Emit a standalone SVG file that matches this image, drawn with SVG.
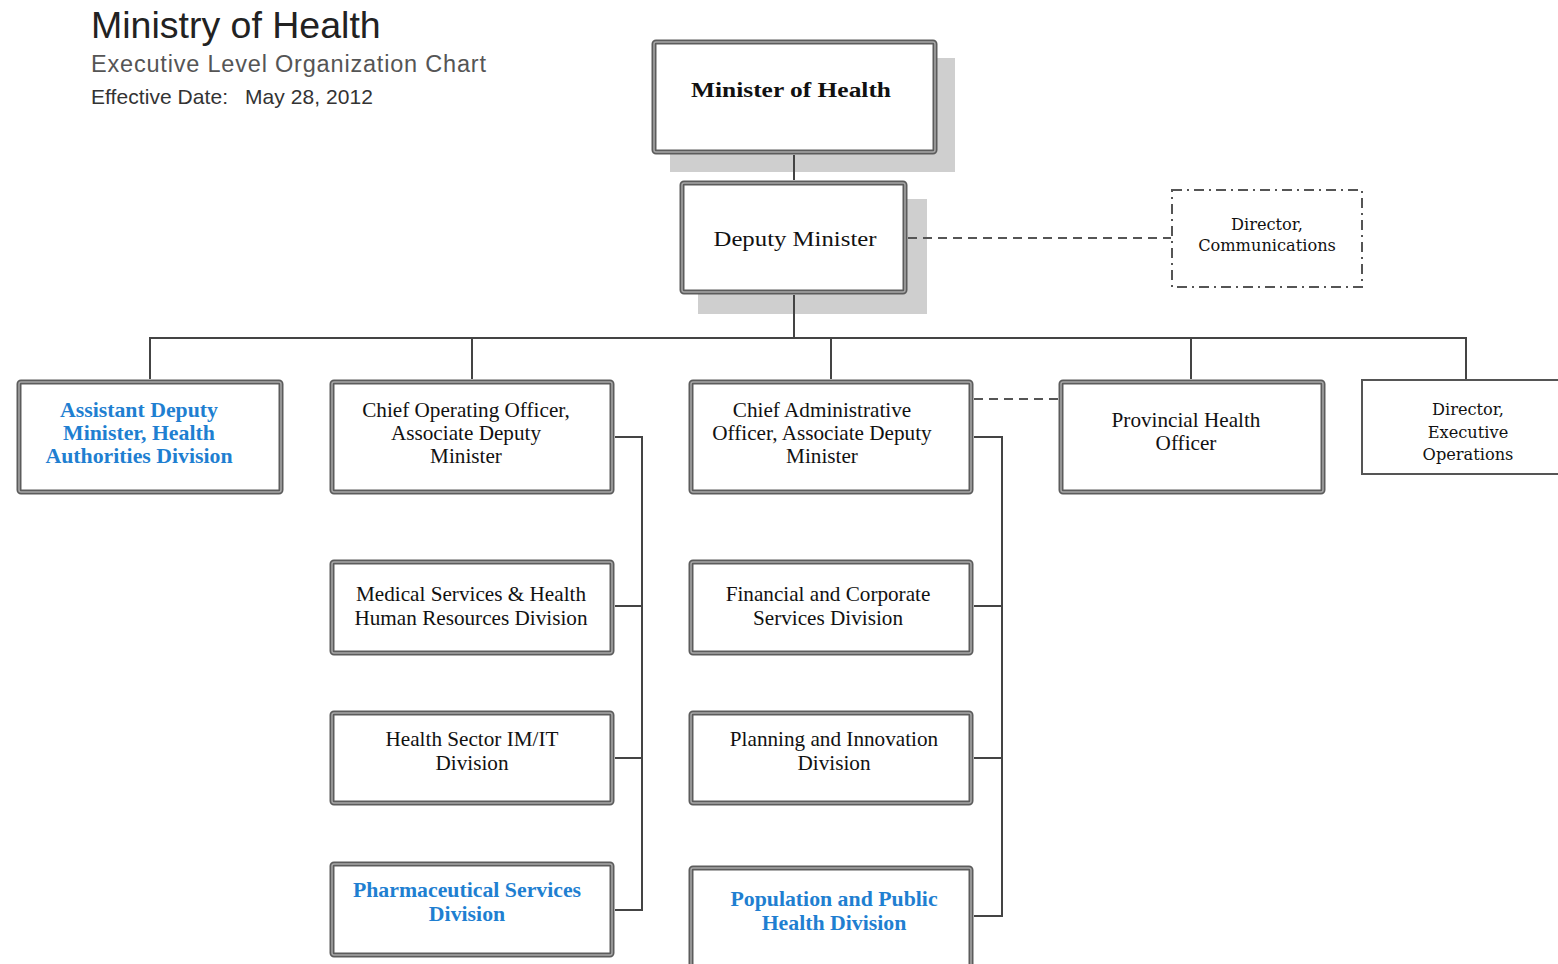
<svg xmlns="http://www.w3.org/2000/svg" width="1558" height="964" viewBox="0 0 1558 964">
<style>
.bx{fill:#fff;stroke:#5c5c5c;stroke-width:5}
.bxi{fill:none;stroke:#a8a8a8;stroke-width:1.5}
.sh{fill:#cfcfcf}
.t{font-family:"Liberation Serif","Times New Roman",serif;font-size:21.2px;fill:#111;text-anchor:middle}
.tb{font-family:"Liberation Serif","Times New Roman",serif;font-size:21.8px;font-weight:bold;fill:#1f7fd1;text-anchor:middle}
.td{font-family:"DejaVu Serif",serif;font-size:16.2px;fill:#111;text-anchor:middle}
.ln{fill:none;stroke:#444;stroke-width:2}
.dl{fill:none;stroke:#555;stroke-width:2;stroke-dasharray:9 6}
.hd{font-family:"Liberation Sans",Arial,sans-serif}
</style>
<rect width="1558" height="964" fill="#fff"/>
<g id="title">
<text class="hd" x="91" y="38" font-size="37.5" fill="#222">Ministry of Health</text>
<text class="hd" x="91" y="72" font-size="23.5" fill="#555" textLength="395">Executive Level Organization Chart</text>
<text class="hd" x="91" y="104" font-size="21" fill="#333" textLength="137">Effective Date:</text>
<text class="hd" x="245" y="104" font-size="21" fill="#333" textLength="128">May 28, 2012</text>
</g>
<g id="minister">
<rect class="sh" x="670" y="58" width="285" height="114"/>
<rect class="bx" x="654" y="42" width="281" height="110" rx="2"/>
<rect class="bxi" x="654" y="42" width="281" height="110" rx="2"/>
<text class="t" x="791" y="97" font-size="26" font-weight="bold" textLength="200" lengthAdjust="spacingAndGlyphs">Minister of Health</text>
</g>
<g id="deputy">
<rect class="sh" x="698" y="199" width="229" height="115"/>
<rect class="bx" x="682" y="183" width="223" height="109" rx="2"/>
<rect class="bxi" x="682" y="183" width="223" height="109" rx="2"/>
<text class="t" x="795" y="246" font-size="26" textLength="163" lengthAdjust="spacingAndGlyphs">Deputy Minister</text>
</g>
<g id="dir-comm">
<rect x="1172" y="190" width="190" height="97" fill="#fff" stroke="#555" stroke-width="2" stroke-dasharray="10 5 2 5"/>
<text class="td" x="1267" y="230">Director,</text>
<text class="td" x="1267" y="251">Communications</text>
</g>
<g id="adm">
<rect class="bx" x="19" y="382" width="262" height="110" rx="2"/>
<rect class="bxi" x="19" y="382" width="262" height="110" rx="2"/>
<text class="tb" x="139" y="417">Assistant Deputy</text>
<text class="tb" x="139" y="440">Minister, Health</text>
<text class="tb" x="139" y="463">Authorities Division</text>
</g>
<g id="coo">
<rect class="bx" x="332" y="382" width="280" height="110" rx="2"/>
<rect class="bxi" x="332" y="382" width="280" height="110" rx="2"/>
<text class="t" x="466" y="417">Chief Operating Officer,</text>
<text class="t" x="466" y="440">Associate Deputy</text>
<text class="t" x="466" y="463">Minister</text>
</g>
<g id="cao">
<rect class="bx" x="691" y="382" width="280" height="110" rx="2"/>
<rect class="bxi" x="691" y="382" width="280" height="110" rx="2"/>
<text class="t" x="822" y="417">Chief Administrative</text>
<text class="t" x="822" y="440">Officer, Associate Deputy</text>
<text class="t" x="822" y="463">Minister</text>
</g>
<g id="pho">
<rect class="bx" x="1061" y="382" width="262" height="110" rx="2"/>
<rect class="bxi" x="1061" y="382" width="262" height="110" rx="2"/>
<text class="t" x="1186" y="427">Provincial Health</text>
<text class="t" x="1186" y="450">Officer</text>
</g>
<g id="dir-exec">
<rect x="1362" y="380" width="200" height="94" fill="#fff" stroke="#555" stroke-width="2"/>
<text class="td" x="1468" y="415">Director,</text>
<text class="td" x="1468" y="438">Executive</text>
<text class="td" x="1468" y="460">Operations</text>
</g>
<g id="medical">
<rect class="bx" x="332" y="562" width="280" height="91" rx="2"/>
<rect class="bxi" x="332" y="562" width="280" height="91" rx="2"/>
<text class="t" x="471" y="601">Medical Services &amp; Health</text>
<text class="t" x="471" y="625">Human Resources Division</text>
</g>
<g id="imit">
<rect class="bx" x="332" y="713" width="280" height="90" rx="2"/>
<rect class="bxi" x="332" y="713" width="280" height="90" rx="2"/>
<text class="t" x="472" y="746">Health Sector IM/IT</text>
<text class="t" x="472" y="770">Division</text>
</g>
<g id="pharma">
<rect class="bx" x="332" y="864" width="280" height="91" rx="2"/>
<rect class="bxi" x="332" y="864" width="280" height="91" rx="2"/>
<text class="tb" x="467" y="897">Pharmaceutical Services</text>
<text class="tb" x="467" y="921">Division</text>
</g>
<g id="financial">
<rect class="bx" x="691" y="562" width="280" height="91" rx="2"/>
<rect class="bxi" x="691" y="562" width="280" height="91" rx="2"/>
<text class="t" x="828" y="601">Financial and Corporate</text>
<text class="t" x="828" y="625">Services Division</text>
</g>
<g id="planning">
<rect class="bx" x="691" y="713" width="280" height="90" rx="2"/>
<rect class="bxi" x="691" y="713" width="280" height="90" rx="2"/>
<text class="t" x="834" y="746">Planning and Innovation</text>
<text class="t" x="834" y="770">Division</text>
</g>
<g id="population">
<rect class="bx" x="691" y="868" width="280" height="100" rx="2"/>
<rect class="bxi" x="691" y="868" width="280" height="100" rx="2"/>
<text class="tb" x="834" y="906">Population and Public</text>
<text class="tb" x="834" y="930">Health Division</text>
</g>
<g id="connectors">
<line class="ln" x1="794" y1="155" x2="794" y2="180"/>
<line class="ln" x1="794" y1="295" x2="794" y2="338"/>
<line class="ln" x1="150" y1="338" x2="1466" y2="338"/>
<line class="ln" x1="150" y1="337" x2="150" y2="379"/>
<line class="ln" x1="472" y1="337" x2="472" y2="379"/>
<line class="ln" x1="831" y1="337" x2="831" y2="379"/>
<line class="ln" x1="1191" y1="337" x2="1191" y2="379"/>
<line class="ln" x1="1466" y1="337" x2="1466" y2="379"/>
<line class="dl" x1="908" y1="238" x2="1171" y2="238"/>
<line class="dl" x1="974" y1="399" x2="1058" y2="399"/>
<path class="ln" d="M615 437H642V910H615M615 606H642M615 758H642"/>
<path class="ln" d="M974 437H1002V916H974M974 606H1002M974 758H1002"/>
</g>
</svg>
